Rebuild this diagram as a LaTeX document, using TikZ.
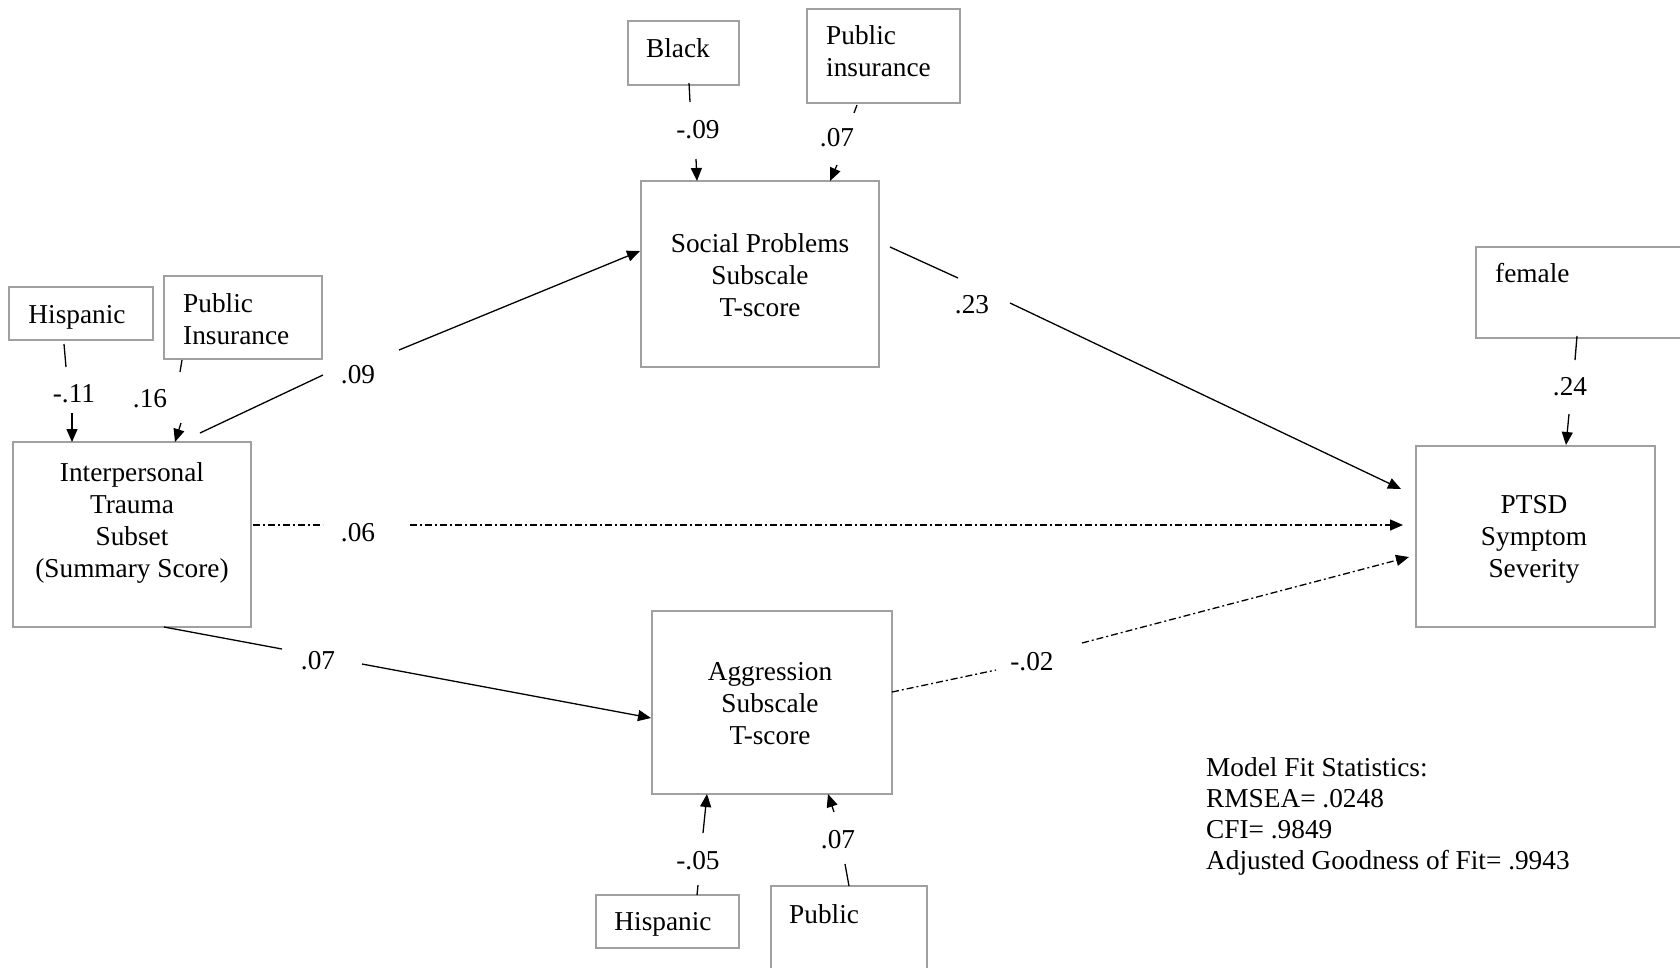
\documentclass[tikz,border=0pt]{standalone}
\usepackage{fontspec}
\setmainfont{Liberation Serif}
\usetikzlibrary{arrows.meta}
\definecolor{boxgray}{RGB}{160,160,160}
\begin{document}
\begin{tikzpicture}[x=1pt,y=-1pt,
  box/.style={draw=boxgray, line width=2pt, inner sep=0pt},
  txt/.style={font=\fontsize{27.3}{32}\selectfont, align=center, inner sep=0pt},
  ltxt/.style={font=\fontsize{27.3}{32}\selectfont, align=left, inner sep=0pt, anchor=west},
  lab/.style={font=\fontsize{27.3}{32}\selectfont, inner sep=0pt},
  conn/.style={line width=1.3pt},
  arr/.style={-{Triangle[length=13pt,width=11pt]}},
  dd/.style={dash pattern=on 7pt off 3pt on 2pt off 3pt}]
\useasboundingbox (0,0) rectangle (1680,967);
\clip (0,0) rectangle (1680,967);
\fill[white] (0,0) rectangle (1680,967);

% boxes
\node[box, minimum width=144pt, minimum height=53pt] (hisA) at (81,313.5) {};
\node[box, minimum width=158pt, minimum height=83pt] (pinsA) at (243,317.5) {};
\node[box, minimum width=238pt, minimum height=185pt] (ipt) at (132,534.5) {};
\node[box, minimum width=111pt, minimum height=64pt] (black) at (683.5,53) {};
\node[box, minimum width=153pt, minimum height=94pt] (pinsB) at (883.5,56) {};
\node[box, minimum width=238pt, minimum height=186pt] (social) at (760,274) {};
\node[box, minimum width=239pt, minimum height=181pt] (ptsd) at (1535.5,536.5) {};
\node[box, minimum width=244pt, minimum height=91pt] (female) at (1598,292.5) {};
\node[box, minimum width=240pt, minimum height=183pt] (agg) at (772,702.5) {};
\node[box, minimum width=143pt, minimum height=53pt] (hisB) at (667.5,921.5) {};
\node[box, minimum width=156pt, minimum height=114pt] (pubC) at (849,943) {};

% box texts
\node[txt] (thisA) at (77,317) {Hispanic};
\node[ltxt] (tpinsA) at (183,319) {Public\\Insurance};
\node[txt] (tipt) at (132,523) {Interpersonal\\Trauma\\Subset\\(Summary Score)};
\node[txt] (tblack) at (678,48) {Black};
\node[ltxt] (tpinsB) at (826,51.5) {Public\\insurance};
\node[txt] (tsocial) at (760,275) {Social Problems\\Subscale\\T-score};
\node[txt] (tptsd) at (1534,539) {PTSD\\Symptom\\Severity};
\node[ltxt] (tfemale) at (1495,273) {female};
\node[txt] (tagg) at (770,704) {Aggression\\Subscale\\T-score};
\node[txt] (thisB) at (663,924) {Hispanic};
\node[ltxt] (tpubC) at (789,914) {Public};

% coefficient labels
\node[lab] (l11) at (74,394) {-.11};
\node[lab] (l16) at (150,399) {.16};
\node[lab] (l09) at (358,375) {.09};
\node[lab] (l06) at (358,533) {.06};
\node[lab] (l07a) at (318,661) {.07};
\node[lab] (l09b) at (698,130) {-.09};
\node[lab] (l07b) at (837,138) {.07};
\node[lab] (l23) at (972,305) {.23};
\node[lab] (l24) at (1570,387) {.24};
\node[lab] (l02) at (1032,662) {-.02};
\node[lab] (l05) at (698,861) {-.05};
\node[lab] (l07c) at (838,840) {.07};

% model fit
\node[font=\fontsize{27.3}{31}\selectfont, align=left, inner sep=0pt, anchor=west] (fit) at (1206,816) {Model Fit Statistics:\\RMSEA= .0248\\CFI= .9849\\Adjusted Goodness of Fit= .9943};

% connector points
\coordinate (a1) at (64,344); \coordinate (a2) at (66,367);
\coordinate (a3) at (72,413); \coordinate (a4) at (72,442);
\coordinate (b1) at (182,360); \coordinate (b2) at (180,372);
\coordinate (b3) at (181,423); \coordinate (b4) at (175,442);
\coordinate (c1) at (689,83); \coordinate (c2) at (690,102);
\coordinate (c3) at (696,159); \coordinate (c4) at (697,181);
\coordinate (d1) at (857,105); \coordinate (d2) at (854,113);
\coordinate (d3) at (837,165); \coordinate (d4) at (830,181);
\coordinate (e1) at (1577,336); \coordinate (e2) at (1575,360);
\coordinate (e3) at (1569,414); \coordinate (e4) at (1566,445);
\coordinate (f1) at (697,895); \coordinate (f2) at (698,885);
\coordinate (f3) at (703,833); \coordinate (f4) at (707,794);
\coordinate (g1) at (849,886); \coordinate (g2) at (845,864);
\coordinate (g3) at (834,812); \coordinate (g4) at (828,794);
% long paths
\coordinate (h1) at (200,433); \coordinate (h2) at (323,375);
\coordinate (h3) at (399,350); \coordinate (h4) at (640,251);
\coordinate (i1) at (253,525); \coordinate (i2) at (323,525);
\coordinate (i3) at (410,525); \coordinate (i4) at (1403,525);
\coordinate (j1) at (164,627); \coordinate (j2) at (282,649);
\coordinate (j3) at (362,664); \coordinate (j4) at (651,718);
\coordinate (k1) at (890,247); \coordinate (k2) at (958,278);
\coordinate (k3) at (1010,303); \coordinate (k4) at (1401,489);
\coordinate (m1) at (892,692); \coordinate (m2) at (996,670);
\coordinate (m3) at (1082,643); \coordinate (m4) at (1409,557);

% connectors
\draw[conn] (a1) -- (a2); \draw[conn,arr] (a3) -- (a4);
\draw[conn] (b1) -- (b2); \draw[conn,arr] (b3) -- (b4);
\draw[conn] (c1) -- (c2); \draw[conn,arr] (c3) -- (c4);
\draw[conn] (d1) -- (d2); \draw[conn,arr] (d3) -- (d4);
\draw[conn] (e1) -- (e2); \draw[conn,arr] (e3) -- (e4);
\draw[conn] (f1) -- (f2); \draw[conn,arr] (f3) -- (f4);
\draw[conn] (g1) -- (g2); \draw[conn,arr] (g3) -- (g4);
\draw[conn] (h1) -- (h2); \draw[conn,arr] (h3) -- (h4);
\draw[conn,dd] (i1) -- (i2); \draw[conn,dd,arr] (i3) -- (i4);
\draw[conn] (j1) -- (j2); \draw[conn,arr] (j3) -- (j4);
\draw[conn] (k1) -- (k2); \draw[conn,arr] (k3) -- (k4);
\draw[conn,dd] (m1) -- (m2); \draw[conn,dd,arr] (m3) -- (m4);
\end{tikzpicture}
\end{document}
